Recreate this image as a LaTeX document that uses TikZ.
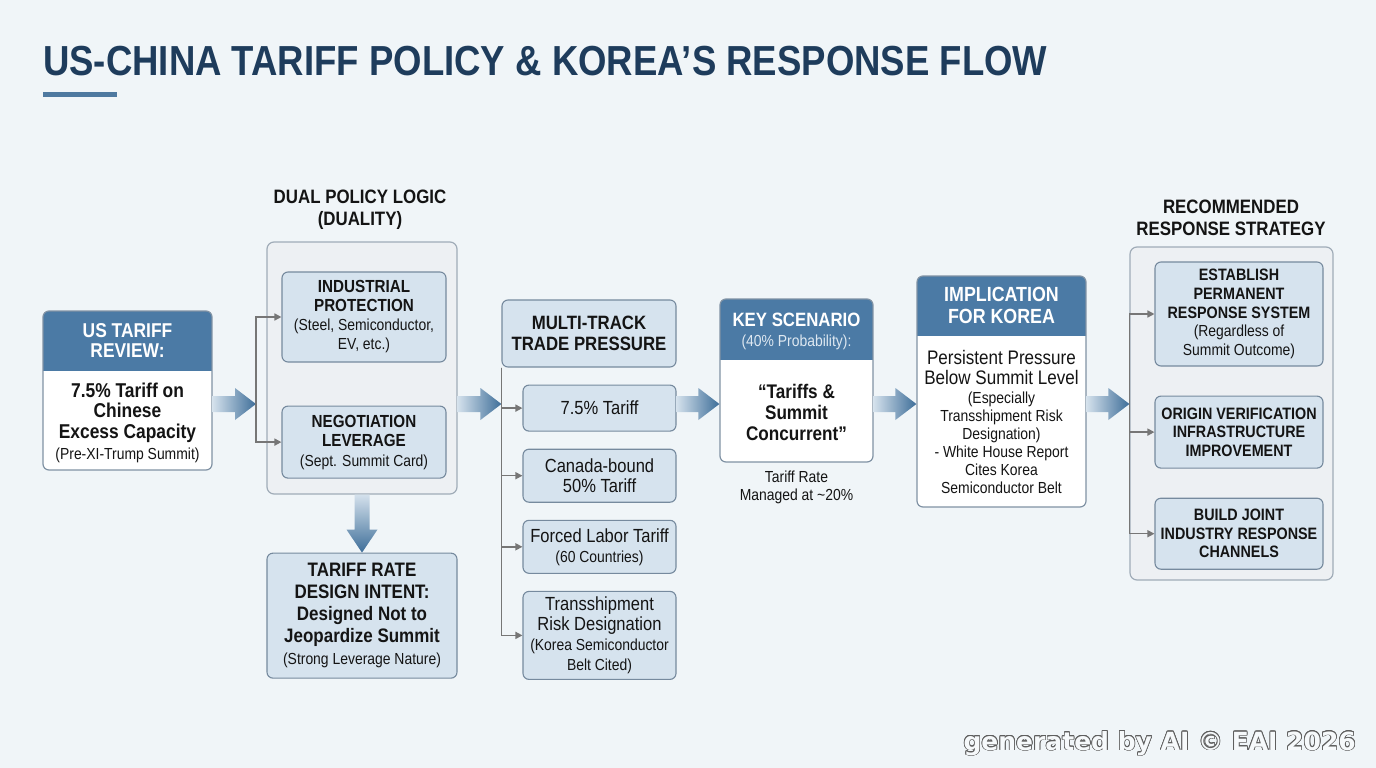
\documentclass[tikz,border=0pt]{standalone}
\usepackage{fontspec}
\setmainfont{Liberation Sans}[FakeStretch=0.87]
\newfontfamily\markfont{DejaVu Sans}
\usepackage[copies]{contour}
\usepackage{tikz}
\usetikzlibrary{arrows.meta,positioning,calc}
\definecolor{pagebg}{RGB}{240,245,248}
\definecolor{titlenavy}{RGB}{30,60,92}
\definecolor{titlebar}{RGB}{78,121,160}
\definecolor{headblue}{RGB}{75,122,165}
\definecolor{boxfill}{RGB}{214,227,238}
\definecolor{boxline}{RGB}{118,138,158}
\definecolor{grpfill}{RGB}{237,240,243}
\definecolor{grpline}{RGB}{160,172,184}
\definecolor{cardline}{RGB}{128,146,164}
\definecolor{inktxt}{RGB}{20,20,20}
\definecolor{subwhite}{RGB}{222,232,241}
\definecolor{branchgray}{RGB}{118,118,118}
\definecolor{arrowpale}{RGB}{212,225,236}
\definecolor{arrowblue}{RGB}{62,110,153}
\definecolor{markgray}{RGB}{95,95,95}

\newcommand{\notesize}{\fontsize{16}{18}\selectfont\mdseries}
% wide shaded arrow between two points on the flow line
\newcommand{\flowarrow}[2]{%
  \coordinate (fas) at (#1); \coordinate (fae) at (#2);
  \shade[left color=arrowpale,right color=arrowblue]
    ($(fas)+(0,8)$) -- ($(fae)+(-21,8)$) -- ($(fae)+(-21,16)$) -- (fae)
    -- ($(fae)+(-21,-16)$) -- ($(fae)+(-21,-8)$) -- ($(fas)+(0,-8)$) -- cycle;}

\begin{document}
\begin{tikzpicture}[
  x=1pt,y=1pt,
  card/.style={draw=cardline,fill=white,line width=1.2pt,rounded corners=6pt,
    path picture={\fill[headblue,sharp corners] (path picture bounding box.north west) rectangle ([yshift=-#1]path picture bounding box.north east);}},
  grp/.style={draw=grpline,fill=grpfill,line width=1.2pt,rounded corners=7pt},
  lightbox/.style={draw=boxline,fill=boxfill,line width=1.1pt,rounded corners=6pt,align=center,text=inktxt,inner sep=1pt},
  trackbox/.style={lightbox,minimum width=153pt,font=\fontsize{19}{20}\selectfont},
  respbox/.style={lightbox,minimum width=168pt,font=\fontsize{16.5}{18.6}\selectfont\bfseries},
  headtxt/.style={text=white,align=center,font=\fontsize{20}{20.5}\selectfont\bfseries,inner sep=0pt},
  bodytxt/.style={text=inktxt,align=center,inner sep=0pt},
  grplabel/.style={text=inktxt,align=center,font=\fontsize{19.4}{22}\selectfont\bfseries,inner sep=0pt},
  branch/.style={draw=branchgray,line width=1.5pt,-{Triangle[length=7pt,width=7pt]}}
]
  \fill[pagebg] (0,0) rectangle (1376,-768);
  \node[anchor=base west,inner sep=0pt,text=titlenavy,font=\fontsize{42}{46}\selectfont\bfseries] (title) at (43,-75) {US-CHINA TARIFF POLICY \& KOREA’S RESPONSE FLOW};
  \fill[titlebar] (43,-92) rectangle (117,-97);

  % tariff review
  \node[card=60pt,minimum width=169pt,minimum height=159pt] (usrev) at (127.5,-390.5) {};
  \node[headtxt] (usrevhead) at ([yshift=-30pt]usrev.north) {US TARIFF\\REVIEW:};
  \node[bodytxt,font=\fontsize{20}{20.7}\selectfont\bfseries] (usrevbody) at ([yshift=48pt]usrev.south) {7.5\% Tariff on\\Chinese\\Excess Capacity\\{\notesize (Pre-XI-Trump Summit)}};

  % duality
  \node[grp,minimum width=190pt,minimum height=252pt] (dual) at (362,-368) {};
  \node[grplabel] (duallbl) at (360,-210) {DUAL POLICY LOGIC\\(DUALITY)};
  \node[lightbox,minimum width=164pt,minimum height=90pt,font=\fontsize{17.5}{19}\selectfont\bfseries] (ind) at (364,-317) {INDUSTRIAL\\PROTECTION\\{\notesize (Steel, Semiconductor,}\\{\notesize EV, etc.)}};
  \node[lightbox,below=43pt of ind,minimum width=164pt,minimum height=72pt,font=\fontsize{17.5}{19.5}\selectfont\bfseries] (neg) {NEGOTIATION\\LEVERAGE\\{\notesize (Sept. Summit Card)}};
  \node[lightbox,below=58pt of dual,minimum width=190pt,minimum height=125pt,font=\fontsize{19.5}{22}\selectfont\bfseries] (design) {TARIFF RATE\\DESIGN INTENT:\\Designed Not to\\Jeopardize Summit\\{\notesize (Strong Leverage Nature)}};

  % trade pressure tracks
  \node[lightbox,minimum width=174pt,minimum height=67pt,font=\fontsize{19.3}{21}\selectfont\bfseries] (mtp) at (589,-333.5) {MULTI-TRACK\\TRADE PRESSURE};
  \node[trackbox,below left=17pt and 0pt of mtp.south east,minimum height=46pt] (trk1) {7.5\% Tariff};
  \node[trackbox,below=17pt of trk1,minimum height=53pt] (trk2) {Canada-bound\\50\% Tariff};
  \node[trackbox,below=17pt of trk2,minimum height=53pt] (trk3) {Forced Labor Tariff\\{\notesize (60 Countries)}};
  \node[trackbox,below=17pt of trk3,minimum height=88pt] (trk4) {Transshipment\\Risk Designation\\{\notesize (Korea Semiconductor}\\{\notesize Belt Cited)}};

  % scenario
  \node[card=61pt,minimum width=153pt,minimum height=163pt] (keysc) at (796.5,-380.5) {};
  \node[headtxt,font=\fontsize{19.3}{20}\selectfont\bfseries] (keyschead) at ([yshift=-33pt]keysc.north) {KEY SCENARIO\\{\notesize\color{subwhite}(40\% Probability):}};
  \node[bodytxt,font=\fontsize{19.7}{21.3}\selectfont\bfseries] (keyscbody) at ([yshift=50pt]keysc.south) {“Tariffs \&\\Summit\\Concurrent”};
  \node[bodytxt,below=8pt of keysc,font=\notesize] (keyscnote) {Tariff Rate\\Managed at \textasciitilde 20\%};

  % implication
  \node[card=60pt,minimum width=169pt,minimum height=231pt] (impl) at (1001.5,-391.5) {};
  \node[headtxt,font=\fontsize{20.5}{21.7}\selectfont\bfseries] (implhead) at ([yshift=-30pt]impl.north) {IMPLICATION\\FOR KOREA};
  \node[bodytxt,anchor=north,font=\fontsize{19.6}{19.5}\selectfont] (implbody) at ([yshift=-75pt]impl.north) {Persistent Pressure\\Below Summit Level\\{\notesize (Especially}\\[-1.5pt]{\notesize Transshipment Risk}\\[-1.5pt]{\notesize Designation)}\\[-1.5pt]{\notesize - White House Report}\\[-1.5pt]{\notesize Cites Korea}\\[-1.5pt]{\notesize Semiconductor Belt}};

  % response strategy
  \node[grp,minimum width=203pt,minimum height=333pt] (strat) at (1231.5,-413.5) {};
  \node[grplabel] (stratlbl) at (1231,-218) {RECOMMENDED\\RESPONSE STRATEGY};
  \node[respbox,minimum height=104pt] (resp1) at (1239,-314) {ESTABLISH\\PERMANENT\\RESPONSE SYSTEM\\{\notesize (Regardless of}\\{\notesize Summit Outcome)}};
  \node[respbox,below=29pt of resp1,minimum height=72pt] (resp2) {ORIGIN VERIFICATION\\INFRASTRUCTURE\\IMPROVEMENT};
  \node[respbox,below=29pt of resp2,minimum height=71pt] (resp3) {BUILD JOINT\\INDUSTRY RESPONSE\\CHANNELS};

  % connectors
  \coordinate (flow) at (0,-404);
  \coordinate (dualsplit) at (256,-404);
  \flowarrow{usrev.east |- flow}{dualsplit}
  \flowarrow{dual.east |- flow}{mtp.west |- flow}
  \flowarrow{trk1.east |- flow}{keysc.west |- flow}
  \flowarrow{keysc.east |- flow}{impl.west |- flow}
  \flowarrow{impl.east |- flow}{strat.west |- flow}
  \shade[top color=arrowpale,bottom color=arrowblue]
    ($(dual.south)+(-7.5,0)$) -- ($(design.north)+(-7.5,23)$) -- ($(design.north)+(-15.5,23)$) -- (design.north)
    -- ($(design.north)+(15.5,23)$) -- ($(design.north)+(7.5,23)$) -- ($(dual.south)+(7.5,0)$) -- cycle;
  \draw[branch] (dualsplit) |- (ind.west);
  \draw[branch] (dualsplit) |- (neg.west);
  \draw[branch] (mtp.south west) |- (trk1.west);
  \draw[branch] (mtp.south west) |- (trk2.west);
  \draw[branch] (mtp.south west) |- (trk3.west);
  \draw[branch] (mtp.south west) |- (trk4.west);
  \draw[branch] (strat.west |- flow) |- (resp1.west);
  \draw[branch] (strat.west |- flow) |- (resp2.west);
  \draw[branch] (strat.west |- flow) |- (resp3.west);

  \node[anchor=base east,inner sep=0pt,font=\markfont\bfseries\fontsize{25}{27}\selectfont] (mark) at (1356,-750) {\contourlength{0.7pt}\color{pagebg!60!white}\contour{markgray}{generated by AI © EAI 2026}};
\end{tikzpicture}
\end{document}
